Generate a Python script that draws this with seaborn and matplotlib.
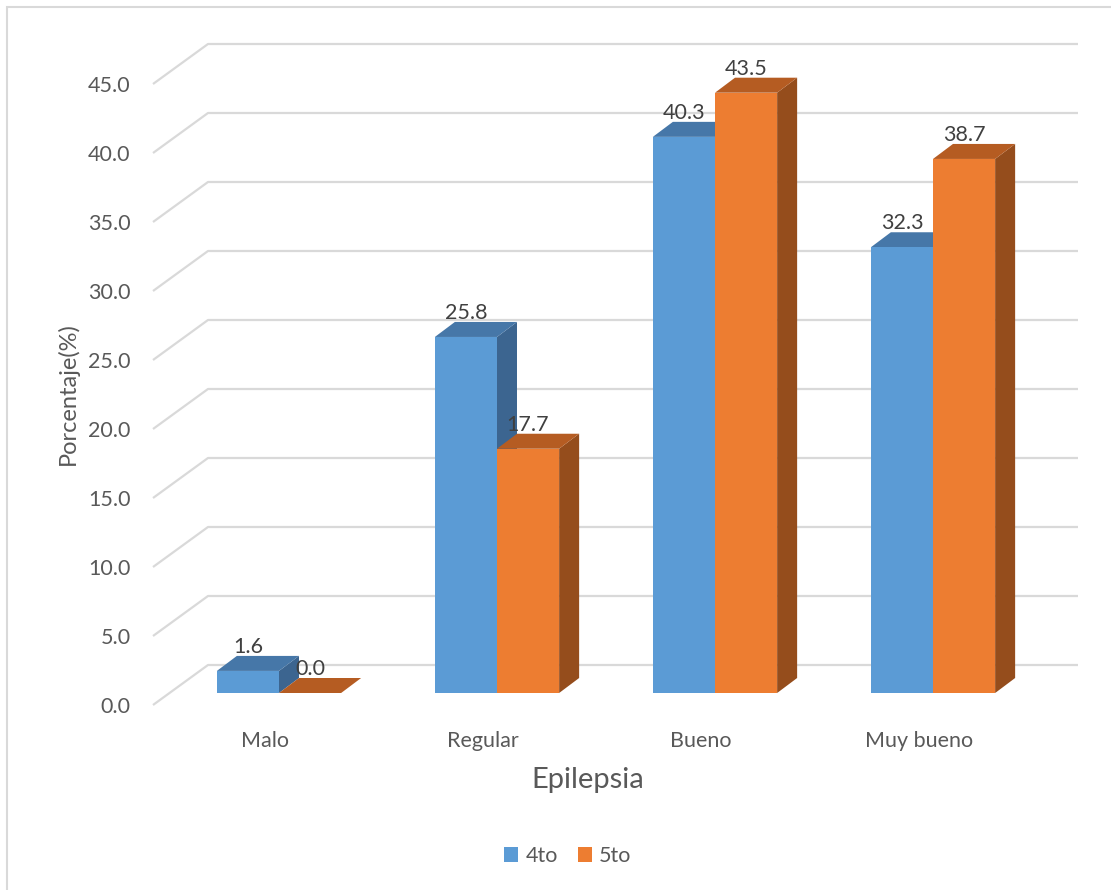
import numpy as np
import pandas as pd
import matplotlib
matplotlib.use("Agg")
import matplotlib.pyplot as plt
from matplotlib.patches import Polygon, Patch, Rectangle
import seaborn as sns

# Data
categories = ["Malo", "Regular", "Bueno", "Muy bueno"]
series_names = ["4to", "5to"]
values_4to = [1.6, 25.8, 40.3, 32.3]
values_5to = [0.0, 17.7, 43.5, 38.7]
ytick_values = [0, 5, 10, 15, 20, 25, 30, 35, 40, 45]

front_colors = ["#5B9BD5", "#ED7D31"]
top_colors = ["#4677A8", "#B55C22"]
side_colors = ["#3C6590", "#954D1C"]
text_color = "#595959"
grid_color = "#D9D9D9"

df = pd.DataFrame({
    "Categoria": categories * 2,
    "Porcentaje": values_4to + values_5to,
    "Grado": [series_names[0]] * 4 + [series_names[1]] * 4,
})

sns.set_theme(style="white")
plt.rcParams["font.family"] = ["Lato", "DejaVu Sans"]

W, H = 1111, 890
fig = plt.figure(figsize=(W / 100, H / 100), dpi=100)

# axes placed in pixel units
ax_l, ax_r, ax_t, ax_b = 150, 1080, 30, 710
ax = fig.add_axes([ax_l / W, 1 - ax_b / H, (ax_r - ax_l) / W, (ax_b - ax_t) / H])

sns.barplot(data=df, x="Categoria", y="Porcentaje", hue="Grado",
            palette=front_colors, saturation=1, width=0.57, gap=0,
            order=categories, hue_order=series_names, legend=False, ax=ax)

# pixel geometry of the pseudo-3D projection
x0_px, x_step = 279.0, 218.0        # group centre of first category, spacing
y0_px, y_scale = 693.0, 13.8        # baseline of bar plane, px per unit
ax.set_xlim((ax_l - x0_px) / x_step, (ax_r - x0_px) / x_step)
ax.set_ylim((y0_px - ax_b) / y_scale, (y0_px - ax_t) / y_scale)

def px_dx(d):
    return d / x_step

def px_dy(d):
    return d / y_scale

# side wall + back wall gridlines
x_front = px_dx(153 - x0_px)
x_back = px_dx(208 - x0_px)
x_end = px_dx(1078 - x0_px)
front_off = -px_dy(12)
back_off = px_dy(28)
for v in ytick_values:
    ax.plot([x_front, x_back, x_end], [v + front_off, v + back_off, v + back_off],
            color=grid_color, lw=1.6, zorder=0, solid_capstyle="butt")

# depth faces for each bar
ddx, ddy = px_dx(20), px_dy(15)
for k, container in enumerate(ax.containers):
    for bar in container:
        x, w, h = bar.get_x(), bar.get_width(), bar.get_height()
        bar.set_zorder(3 + 2 * k)
        bar.set_edgecolor("none")
        top = Polygon([(x, h), (x + w, h), (x + w + ddx, h + ddy), (x + ddx, h + ddy)],
                      closed=True, facecolor=top_colors[k], edgecolor="none",
                      zorder=2.9 + 2 * k)
        side = Polygon([(x + w, 0), (x + w, h), (x + w + ddx, h + ddy), (x + w + ddx, ddy)],
                       closed=True, facecolor=side_colors[k], edgecolor="none",
                       zorder=2.9 + 2 * k)
        ax.add_patch(side)
        ax.add_patch(top)
    ax.bar_label(container, fmt="%.1f", padding=10, color="#404040",
                 fontsize=15.5, zorder=10)

# axis ticks and labels
ax.set_yticks([v + front_off for v in ytick_values],
              labels=[f"{v:.1f}" for v in ytick_values])
ax.set_xticks([i - px_dx(14) for i in range(len(categories))], labels=categories)
ax.tick_params(axis="both", length=0, labelsize=15.5, labelcolor=text_color)
ax.tick_params(axis="y", pad=14)
ax.tick_params(axis="x", pad=15)
for s in ax.spines.values():
    s.set_visible(False)
ax.set_facecolor("none")

ax.set_ylabel("Porcentaje(%)", fontsize=17, color=text_color)
ax.yaxis.set_label_coords((68 - ax_l) / (ax_r - ax_l), (ax_b - 394) / (ax_b - ax_t))
ax.set_xlabel("Epilepsia", fontsize=21, color=text_color)
ax.xaxis.set_label_coords((588 - ax_l) / (ax_r - ax_l), (ax_b - 780) / (ax_b - ax_t))
ax.xaxis.label.set_va("center")
ax.yaxis.label.set_va("center")

handles = [Patch(facecolor=c, edgecolor="none", label=n)
           for c, n in zip(front_colors, series_names)]
leg = fig.legend(handles=handles, loc="center", ncol=2, frameon=False,
                 bbox_to_anchor=(568 / W, 1 - 856 / H), fontsize=15.5,
                 handlelength=0.65, handleheight=0.65, handletextpad=0.35,
                 columnspacing=0.9)
for t in leg.get_texts():
    t.set_color(text_color)

# chart area border
fig.patches.append(Rectangle((7 / W, -0.1), 1.2, 1 - 7 / H + 0.1,
                             transform=fig.transFigure, fill=False,
                             edgecolor="#D9D9D9", lw=1.5, zorder=0))

fig.savefig("out.png", dpi=100)
